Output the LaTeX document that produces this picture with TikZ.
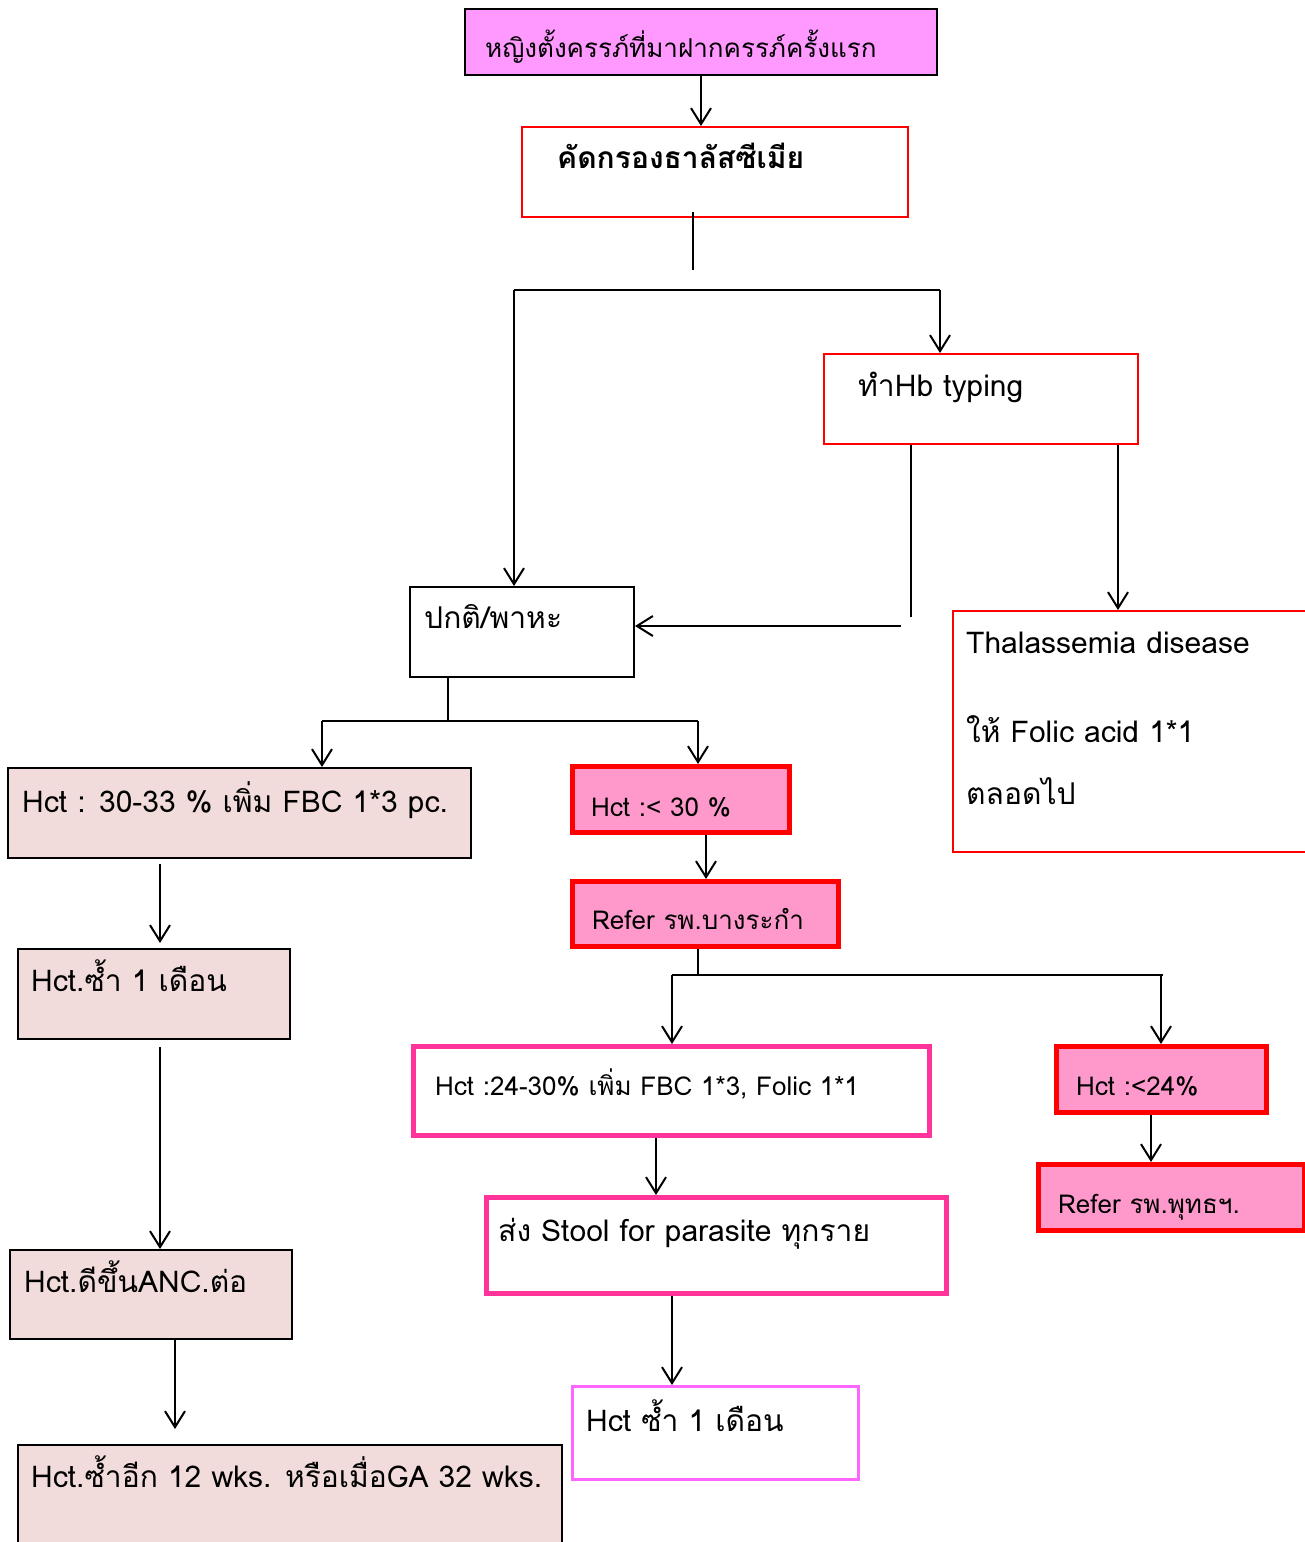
\documentclass[tikz,border=0pt]{standalone}
\usepackage{fontspec}
\setmainfont{Loma}[Script=Thai]
\usetikzlibrary{arrows.meta,positioning}
\definecolor{violetfill}{HTML}{FF99FF}
\definecolor{pinkfill}{HTML}{FF99CC}
\definecolor{rosefill}{HTML}{F2DCDB}
\definecolor{hotpink}{HTML}{FF3399}
\definecolor{lightmag}{HTML}{FF66FF}

\begin{document}
\begin{tikzpicture}[x=1pt,y=-1pt]
    %styles
    \tikzstyle{box}=[rectangle,draw,line width=2pt,anchor=north west,inner sep=0pt]
    \tikzstyle{redbox}=[box,draw=red]
    \tikzstyle{alarm}=[box,draw=red,line width=4.5pt,fill=pinkfill]
    \tikzstyle{rosebox}=[box,fill=rosefill]
    \tikzstyle{txt}=[anchor=base west,inner sep=0pt,font=\fontsize{30}{36}\selectfont]
    \tikzstyle{small}=[txt,font=\fontsize{26}{32}\selectfont]
    \tikzstyle{line}=[line width=2pt]
    \tikzstyle{arr}=[line,-{Straight Barb[length=16pt,width=20pt,line width=2pt]}]
    \useasboundingbox (0,0) rectangle (1304,1542);
    %nodes
    \node[box,fill=violetfill,minimum width=472pt,minimum height=66pt] (first) at (464,8) {};
    \node[small] (first-t) at ([shift={(21,49)}]first.north west) {หญิงตั้งครรภ์ที่มาฝากครรภ์ครั้งแรก};
    \node[redbox,minimum width=386pt,minimum height=90pt] (screen) at (521,126) {};
    \node[txt,font=\fontsize{30}{36}\selectfont\bfseries] (screen-t) at ([shift={(36,42)}]screen.north west) {คัดกรองธาลัสซีเมีย};
    \node[redbox,minimum width=314pt,minimum height=90pt] (hb) at (823,353) {};
    \node[txt] (hb-t) at ([shift={(35,43)}]hb.north west) {ทำHb typing};
    \node[box,minimum width=224pt,minimum height=90pt] (normal) at (409,586) {};
    \node[txt] (normal-t) at ([shift={(15,42)}]normal.north west) {ปกติ/พาหะ};
    \node[redbox,minimum width=370pt,minimum height=241pt] (thal) at (952,610) {};
    \node[txt] (thal-t1) at ([shift={(14,43)}]thal.north west) {Thalassemia disease};
    \node[txt] (thal-t2) at ([shift={(14,132)}]thal.north west) {ให้ Folic acid 1*1};
    \node[txt] (thal-t3) at ([shift={(14,194)}]thal.north west) {ตลอดไป};
    \node[rosebox,minimum width=463pt,minimum height=90pt] (hct1) at (7,767) {};
    \node[txt] (hct1-t) at ([shift={(15,45)}]hct1.north west) {Hct : 30-33 \% เพิ่ม FBC 1*3 pc.};
    \node[alarm,minimum width=217pt,minimum height=66pt] (low) at (570,764) {};
    \node[small] (low-t) at ([shift={(21,52)}]low.north west) {Hct :< 30 \%};
    \node[alarm,minimum width=266pt,minimum height=65pt] (refer1) at (570,879) {};
    \node[small] (refer1-t) at ([shift={(22,50)}]refer1.north west) {Refer รพ.บางระกำ};
    \node[box,draw=hotpink,line width=5pt,minimum width=516pt,minimum height=89pt] (mid) at (411,1044) {};
    \node[small] (mid-t) at ([shift={(24,51)}]mid.north west) {Hct :24-30\% เพิ่ม FBC 1*3, Folic 1*1};
    \node[alarm,minimum width=210pt,minimum height=66pt] (vlow) at (1054,1044) {};
    \node[small] (vlow-t) at ([shift={(22,51)}]vlow.north west) {Hct :<24\%};
    \node[alarm,minimum width=266pt,minimum height=66pt] (refer2) at (1036,1162) {};
    \node[small] (refer2-t) at ([shift={(22,51)}]refer2.north west) {Refer รพ.พุทธฯ.};
    \node[box,draw=hotpink,line width=5pt,minimum width=460pt,minimum height=96pt] (stool) at (484,1195) {};
    \node[txt] (stool-t) at ([shift={(14,46)}]stool.north west) {ส่ง Stool for parasite ทุกราย};
    \node[box,draw=lightmag,line width=3pt,minimum width=286pt,minimum height=93pt] (recheck) at (571,1385) {};
    \node[txt] (recheck-t) at ([shift={(15,46)}]recheck.north west) {Hct ซ้ำ 1 เดือน};
    \node[rosebox,minimum width=272pt,minimum height=90pt] (rep1) at (17,948) {};
    \node[txt] (rep1-t) at ([shift={(14,43)}]rep1.north west) {Hct.ซ้ำ 1 เดือน};
    \node[rosebox,minimum width=282pt,minimum height=89pt] (better) at (9,1249) {};
    \node[txt] (better-t) at ([shift={(15,43)}]better.north west) {Hct.ดีขึ้นANC.ต่อ};
    \node[rosebox,minimum width=544pt,minimum height=130pt] (last) at (17,1444) {};
    \node[txt] (last-t) at ([shift={(14,43)}]last.north west) {Hct.ซ้ำอีก 12 wks. หรือเมื่อGA 32 wks.};
    %points
    \coordinate (stub1) at (693,212);
    \coordinate (stub2) at (693,270);
    \coordinate (forkL) at (514,290);
    \coordinate (forkR) at (940,290);
    \coordinate (hbstub) at (911,617);
    \coordinate (hbback) at (901,626);
    \coordinate (fork2) at (448,721);
    \coordinate (fork2L) at (322,721);
    \coordinate (fork2R) at (698,721);
    \coordinate (fork3) at (698,975);
    \coordinate (fork3L) at (672,975);
    \coordinate (fork3R) at (1163,975);
    %arrows
    \draw[arr] (first.south) -- (first.south |- screen.north);
    \draw[line] (stub1) -- (stub2);
    \draw[line] (forkL) -- (forkR);
    \draw[arr] (forkR) -- (forkR |- hb.north);
    \draw[arr] (forkL) -- (forkL |- normal.north);
    \draw[line] (hbstub |- hb.south) -- (hbstub);
    \draw[arr] (hbback) -- (hbback -| normal.east);
    \draw[arr] ([xshift=-21pt]hb.south east) -- ([xshift=-21pt]hb.south east |- thal.north);
    \draw[line] (fork2 |- normal.south) -- (fork2);
    \draw[line] (fork2L) -- (fork2R);
    \draw[arr] (fork2L) -- (fork2L |- hct1.north);
    \draw[arr] (fork2R) -- (fork2R |- low.north);
    \draw[arr] ([xshift=136pt]low.south west) -- ([xshift=136pt]low.south west |- refer1.north);
    \draw[line] (fork3 |- refer1.south) -- (fork3);
    \draw[line] (fork3L) -- (fork3R);
    \draw[arr] (fork3L) -- (fork3L |- mid.north);
    \draw[arr] ([xshift=-2pt]fork3R) -- ([xshift=-2pt]fork3R |- vlow.north);
    \draw[arr] ([xshift=97pt]vlow.south west) -- ([xshift=97pt]vlow.south west |- refer2.north);
    \draw[arr] ([xshift=245pt]mid.south west) -- ([xshift=245pt]mid.south west |- stool.north);
    \draw[arr] ([xshift=188pt]stool.south west) -- ([xshift=188pt]stool.south west |- recheck.north);
    \draw[arr,shorten <=5pt,shorten >=5pt] ([xshift=153pt]hct1.south west) -- ([xshift=153pt]hct1.south west |- rep1.north);
    \draw[arr,shorten <=7pt] ([xshift=143pt]rep1.south west) -- ([xshift=143pt]rep1.south west |- better.north);
    \draw[arr,shorten >=15pt] ([xshift=166pt]better.south west) -- ([xshift=166pt]better.south west |- last.north);
\end{tikzpicture}
\end{document}
